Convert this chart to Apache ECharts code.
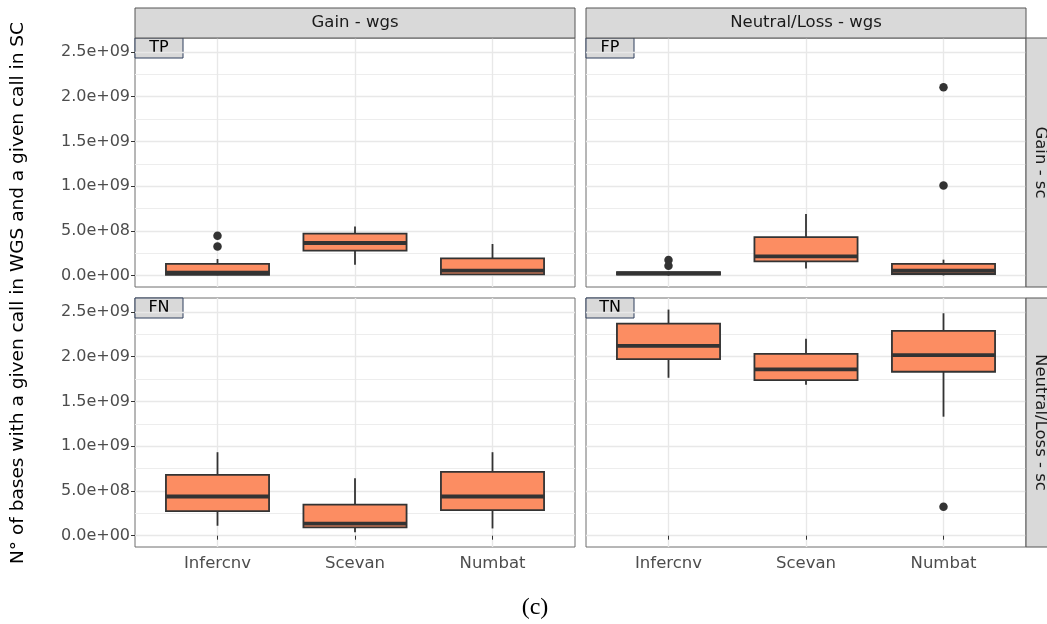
<!DOCTYPE html>
<html>
<head>
<meta charset="utf-8">
<script src="https://cdn.jsdelivr.net/npm/echarts@6/dist/echarts.min.js"></script>
<style>
  html, body { margin: 0; padding: 0; background: #fff; }
  #main { width: 1047px; height: 624px; }
</style>
</head>
<body>
<div id="main"></div>
<script>
// methods on the x axis
const methods = ['Infercnv', 'Scevan', 'Numbat'];
const yTicks = [0, 0.5e9, 1.0e9, 1.5e9, 2.0e9, 2.5e9];
const yMinor = [0.25e9, 0.75e9, 1.25e9, 1.75e9, 2.25e9];

// box stats per method: [min, q1, median, q3, max]
const tpStats = [
    [0.005e9, 0.008e9, 0.033e9, 0.131e9, 0.186e9],
    [0.123e9, 0.279e9, 0.365e9, 0.469e9, 0.550e9],
    [0.008e9, 0.015e9, 0.056e9, 0.193e9, 0.354e9]
];
const fpStats = [
    [0.000e9, 0.012e9, 0.025e9, 0.040e9, 0.045e9],
    [0.081e9, 0.160e9, 0.215e9, 0.432e9, 0.689e9],
    [0.002e9, 0.019e9, 0.055e9, 0.131e9, 0.179e9]
];
const fnStats = [
    [0.111e9, 0.275e9, 0.438e9, 0.680e9, 0.933e9],
    [0.037e9, 0.093e9, 0.134e9, 0.346e9, 0.643e9],
    [0.081e9, 0.286e9, 0.438e9, 0.713e9, 0.933e9]
];
const tnStats = [
    [1.765e9, 1.973e9, 2.122e9, 2.371e9, 2.527e9],
    [1.687e9, 1.739e9, 1.858e9, 2.032e9, 2.200e9],
    [1.330e9, 1.832e9, 2.018e9, 2.289e9, 2.486e9]
];

// outliers: [method, value]
const tpOutliers = [['Infercnv', 0.446e9], ['Infercnv', 0.327e9]];
const fpOutliers = [['Infercnv', 0.175e9], ['Infercnv', 0.110e9], ['Numbat', 2.106e9], ['Numbat', 1.008e9]];
const fnOutliers = [];
const tnOutliers = [['Numbat', 0.323e9]];

const panels = [
    { tag: 'TP', stats: tpStats, outliers: tpOutliers, left: 135, top: 38, bottomRow: false, leftCol: true },
    { tag: 'FP', stats: fpStats, outliers: fpOutliers, left: 586, top: 38, bottomRow: false, leftCol: false },
    { tag: 'FN', stats: fnStats, outliers: fnOutliers, left: 135, top: 298, bottomRow: true, leftCol: true },
    { tag: 'TN', stats: tnStats, outliers: tnOutliers, left: 586, top: 298, bottomRow: true, leftCol: false }
];

const W = 440, H = 249;
const yMin = -0.1265e9, yMax = 2.6565e9;
const font = 'DejaVu Sans';

function sci(v) {
    if (v === 0) return '0.0e+00';
    const e = Math.floor(Math.log10(v) + 1e-9);
    return (v / Math.pow(10, e)).toFixed(1) + 'e+' + (e < 10 ? '0' + e : e);
}

function renderBox(params, api) {
    const x = api.value(0);
    const lo = api.coord([x, api.value(1)]);
    const q1 = api.coord([x, api.value(2)]);
    const md = api.coord([x, api.value(3)]);
    const q3 = api.coord([x, api.value(4)]);
    const hi = api.coord([x, api.value(5)]);
    const half = api.coord([x + 0.375, 0])[0] - lo[0];
    const cx = lo[0];
    const ln = { stroke: '#333333', lineWidth: 1.8 };
    return {
        type: 'group',
        children: [
            { type: 'line', shape: { x1: cx, y1: hi[1], x2: cx, y2: q3[1] }, style: ln },
            { type: 'line', shape: { x1: cx, y1: q1[1], x2: cx, y2: lo[1] }, style: ln },
            { type: 'rect', shape: { x: cx - half, y: q3[1], width: 2 * half, height: q1[1] - q3[1] },
              style: { fill: '#FC8D62', stroke: '#333333', lineWidth: 1.8 } },
            { type: 'line', shape: { x1: cx - half, y1: md[1], x2: cx + half, y2: md[1] },
              style: { stroke: '#333333', lineWidth: 3.8 } }
        ]
    };
}

const grid = [], xAxis = [], yAxis = [], series = [], graphic = [];

panels.forEach(function (p, i) {
    grid.push({ left: p.left, top: p.top, width: W, height: H, show: true,
        borderColor: '#6f6f6f', borderWidth: 1, backgroundColor: '#ffffff' });
    xAxis.push({
        type: 'value', gridIndex: i, min: 0.4, max: 3.6,
        axisLine: { show: false },
        axisTick: { show: p.bottomRow, customValues: [1, 2, 3], length: 4, lineStyle: { color: '#333333' } },
        axisLabel: { show: p.bottomRow, customValues: [1, 2, 3], margin: 8, color: '#4d4d4d',
            fontFamily: font, fontSize: 16.5, formatter: function (v) { return methods[Math.round(v) - 1]; } },
        splitLine: { show: true, lineStyle: { color: '#e8e8e8', width: 1.4 } }
    });
    yAxis.push({
        type: 'value', gridIndex: i, min: yMin, max: yMax,
        axisLine: { show: false },
        axisTick: { show: p.leftCol, customValues: yTicks, length: 4, lineStyle: { color: '#333333' } },
        axisLabel: { show: p.leftCol, customValues: yTicks, margin: 5, color: '#4d4d4d',
            fontFamily: font, fontSize: 16, formatter: sci },
        splitLine: { show: true, lineStyle: { color: '#e8e8e8', width: 1.4 } }
    });
    yAxis.push({
        type: 'value', gridIndex: i, min: yMin, max: yMax, position: 'left',
        axisLine: { show: false },
        axisTick: { show: false, customValues: yMinor },
        axisLabel: { show: false },
        splitLine: { show: true, lineStyle: { color: '#ededed', width: 1 } }
    });
    series.push({
        type: 'custom', xAxisIndex: i, yAxisIndex: 2 * i,
        renderItem: renderBox,
        encode: { x: 0, y: [1, 2, 3, 4, 5] },
        data: p.stats.map(function (s, k) { return [k + 1].concat(s); }),
        z: 3
    });
    series.push({
        type: 'scatter', xAxisIndex: i, yAxisIndex: 2 * i,
        symbolSize: 8.5, itemStyle: { color: '#333333', opacity: 1 },
        data: p.outliers.map(function (o) { return [methods.indexOf(o[0]) + 1, o[1]]; }),
        z: 4
    });
    graphic.push({
        type: 'group', z: 100, children: [
            { type: 'rect', shape: { x: p.left, y: p.top, width: 48, height: 20 },
              style: { fill: '#d9d9d9', stroke: '#2f3e5c', lineWidth: 1 } },
            { type: 'text', x: p.left + 24, y: p.top + 10,
              style: { text: p.tag, font: '16px ' + font, fill: '#000000', align: 'center', verticalAlign: 'middle' } }
        ]
    });
});

// facet strips
const colStrips = [['Gain - wgs', 135], ['Neutral/Loss - wgs', 586]];
colStrips.forEach(function (s) {
    graphic.push({ type: 'rect', z: 50, shape: { x: s[1], y: 8, width: W, height: 30 },
        style: { fill: '#d9d9d9', stroke: '#555555', lineWidth: 1 } });
    graphic.push({ type: 'text', z: 51, x: s[1] + W / 2, y: 23,
        style: { text: s[0], font: '16.5px ' + font, fill: '#1a1a1a', align: 'center', verticalAlign: 'middle' } });
});
const rowStrips = [['Gain - sc', 38], ['Neutral/Loss - sc', 298]];
rowStrips.forEach(function (s) {
    graphic.push({ type: 'rect', z: 50, shape: { x: 1026, y: s[1], width: 30, height: H },
        style: { fill: '#d9d9d9', stroke: '#555555', lineWidth: 1 } });
    graphic.push({ type: 'text', z: 51, x: 1040, y: s[1] + H / 2, rotation: -Math.PI / 2,
        style: { text: s[0], font: '16.5px ' + font, fill: '#1a1a1a', align: 'center', verticalAlign: 'middle' } });
});

graphic.push({ type: 'text', x: 18, y: 293, rotation: Math.PI / 2,
    style: { text: 'N° of bases with a given call in WGS and a given call in SC', font: '18.5px ' + font,
        fill: '#000000', align: 'center', verticalAlign: 'middle' } });
graphic.push({ type: 'text', x: 535, y: 608,
    style: { text: '(c)', font: '24px "Liberation Serif"', fill: '#000000', align: 'center', verticalAlign: 'middle' } });

const chart = echarts.init(document.getElementById('main'));
chart.setOption({
    animation: false,
    backgroundColor: '#ffffff',
    grid: grid,
    xAxis: xAxis,
    yAxis: yAxis,
    series: series,
    graphic: graphic
});
</script>
</body>
</html>
